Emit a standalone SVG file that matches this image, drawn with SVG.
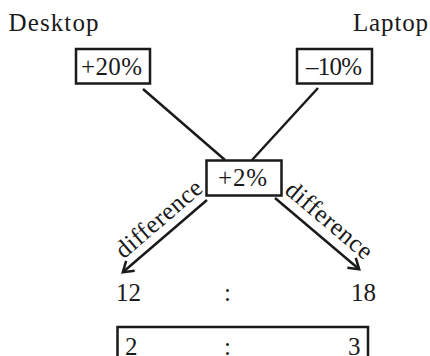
<svg xmlns="http://www.w3.org/2000/svg" width="430" height="356" viewBox="0 0 430 356">
<style>
text{font-family:"Liberation Serif","Times New Roman",serif;font-size:25px;fill:#1a1a1a}
.box{fill:none;stroke:#1a1a1a;stroke-width:2.5}
.ln{fill:none;stroke:#1a1a1a;stroke-width:2.5}
</style>
<defs>
<marker id="ah" markerUnits="userSpaceOnUse" orient="auto" refX="0" refY="0" markerWidth="24" markerHeight="24" viewBox="-12 -12 24 24" overflow="visible">
<path d="M-10,-6.5 L0,0 L-10,6.5" fill="none" stroke="#1a1a1a" stroke-width="2.5"/>
</marker>
</defs>
<rect width="430" height="356" fill="#fff"/>
<g id="desktop"><text x="8.5" y="31" textLength="90" lengthAdjust="spacing">Desktop</text></g>
<g id="laptop"><text x="353" y="31" textLength="75" lengthAdjust="spacing">Laptop</text></g>
<g id="plus20"><rect class="box" x="76" y="49" width="74" height="34.5"/><text x="81" y="75" textLength="61" lengthAdjust="spacing">+20%</text></g>
<g id="minus10"><rect class="box" x="297" y="49" width="75" height="34.5"/><text x="306" y="75" textLength="56" lengthAdjust="spacing">–10%</text></g>
<g id="plus2"><rect class="box" x="206.5" y="160.5" width="75" height="35"/><text x="218" y="186" textLength="49" lengthAdjust="spacing">+2%</text></g>
<g id="ratio1"><text x="116" y="301">12</text><text x="224" y="301">:</text><text x="351" y="301">18</text></g>
<g id="ratio2"><rect class="box" x="117.5" y="327" width="250.5" height="45"/><text x="125" y="355">2</text><text x="224" y="355">:</text><text x="348" y="355">3</text></g>
<g id="connectors">
<line class="ln" x1="143" y1="89" x2="225" y2="160"/>
<line class="ln" x1="318" y1="88" x2="252" y2="160"/>
<line class="ln" x1="207" y1="200" x2="122.8" y2="272.3" marker-end="url(#ah)"/>
<line class="ln" x1="275" y1="198" x2="359.2" y2="269.3" marker-end="url(#ah)"/>
<text transform="translate(164,225) rotate(-40.66)" text-anchor="middle" textLength="106" lengthAdjust="spacing">difference</text>
<text transform="translate(324,226.4) rotate(40.27)" text-anchor="middle" textLength="106" lengthAdjust="spacing">difference</text>
</g>
</svg>
